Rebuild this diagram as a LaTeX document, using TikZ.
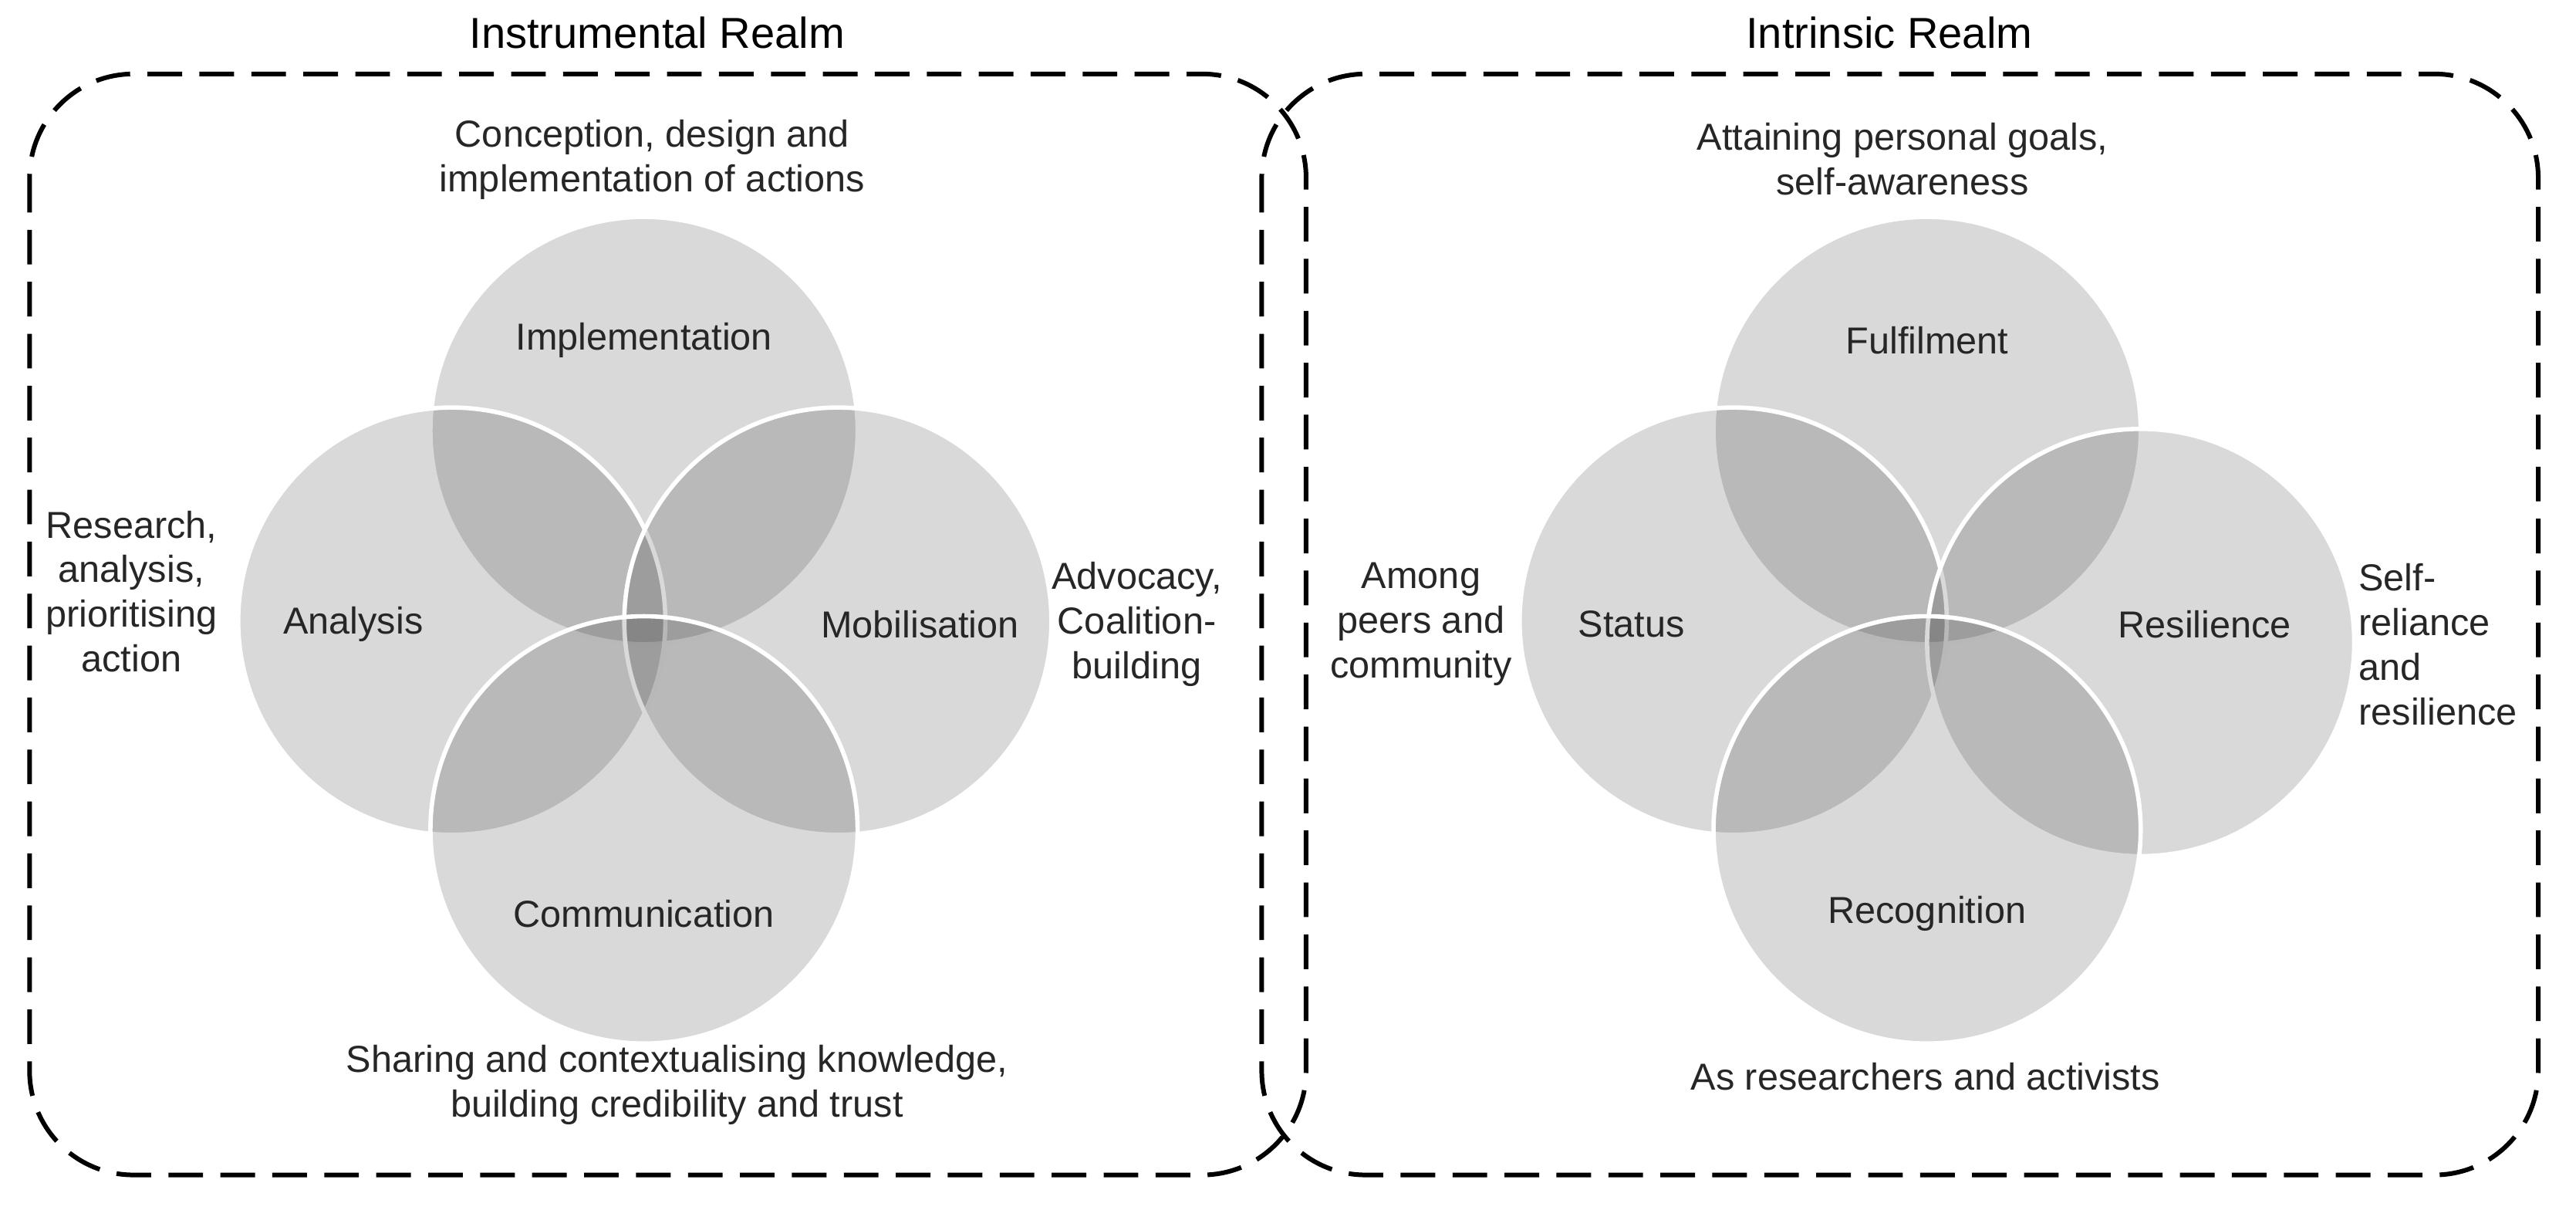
\documentclass[tikz,border=0pt]{standalone}
\usepackage{fontspec}
\setmainfont{Liberation Sans}
\begin{document}
\begin{tikzpicture}[x=0.02cm,y=-0.02cm,
  realm/.style={draw, line width=1.6pt, dash pattern=on 12pt off 6pt, rounded corners=36pt},
  petal/.style={circle, minimum size=260*0.02cm, fill=black, fill opacity=0.15, draw=white, draw opacity=1, line width=1.5pt},
  lbl/.style={font=\fontsize{13}{15.5}\selectfont, align=center, text=black!85},
  ttl/.style={font=\fontsize{15}{18}\selectfont}]
\useasboundingbox (0,0) rectangle (1568,736);
% realms
\draw[realm] (18,45) rectangle (795,715);
\draw[realm] (768,45) rectangle (1545,715);
\node[ttl] (t1) at (400,20) {Instrumental Realm};
\node[ttl] (t2) at (1150,20) {Intrinsic Realm};
% instrumental circles
\node[petal] (imp) at (392,262) {};
\node[petal] (ana) at (275,378) {};
\node[petal] (mob) at (510,378) {};
\node[petal] (com) at (392,505) {};
\node[lbl] at (392,207) {Implementation};
\node[lbl] at (215,380) {Analysis};
\node[lbl] at (560,380) {Mobilisation};
\node[lbl] at (392,556) {Communication};
\node[lbl] (d1) at (397,97) {Conception, design and\\implementation of actions};
\node[lbl] (d2) at (80,360) {Research,\\analysis,\\prioritising\\action};
\node[lbl] (d3) at (692,380) {Advocacy,\\Coalition-\\building};
\node[lbl] (d4) at (412,660) {Sharing and contextualising knowledge,\\building credibility and trust};
% intrinsic circles
\node[petal] (ful) at (1173,262) {};
\node[petal] (sta) at (1055,378) {};
\node[petal] (res) at (1303,391) {};
\node[petal] (rec) at (1173,505) {};
\node[lbl] at (1173,207) {Fulfilment};
\node[lbl] at (993,380) {Status};
\node[lbl] at (1342,380) {Resilience};
\node[lbl] at (1173,556) {Recognition};
\node[lbl] (e1) at (1158,97) {Attaining personal goals,\\self-awareness};
\node[lbl] (e2) at (865,380) {Among\\peers and\\community};
\node[lbl, align=left] (e3) at (1484,392) {Self-\\reliance\\and\\resilience};
\node[lbl] (e4) at (1172,655) {As researchers and activists};
\end{tikzpicture}
\end{document}
